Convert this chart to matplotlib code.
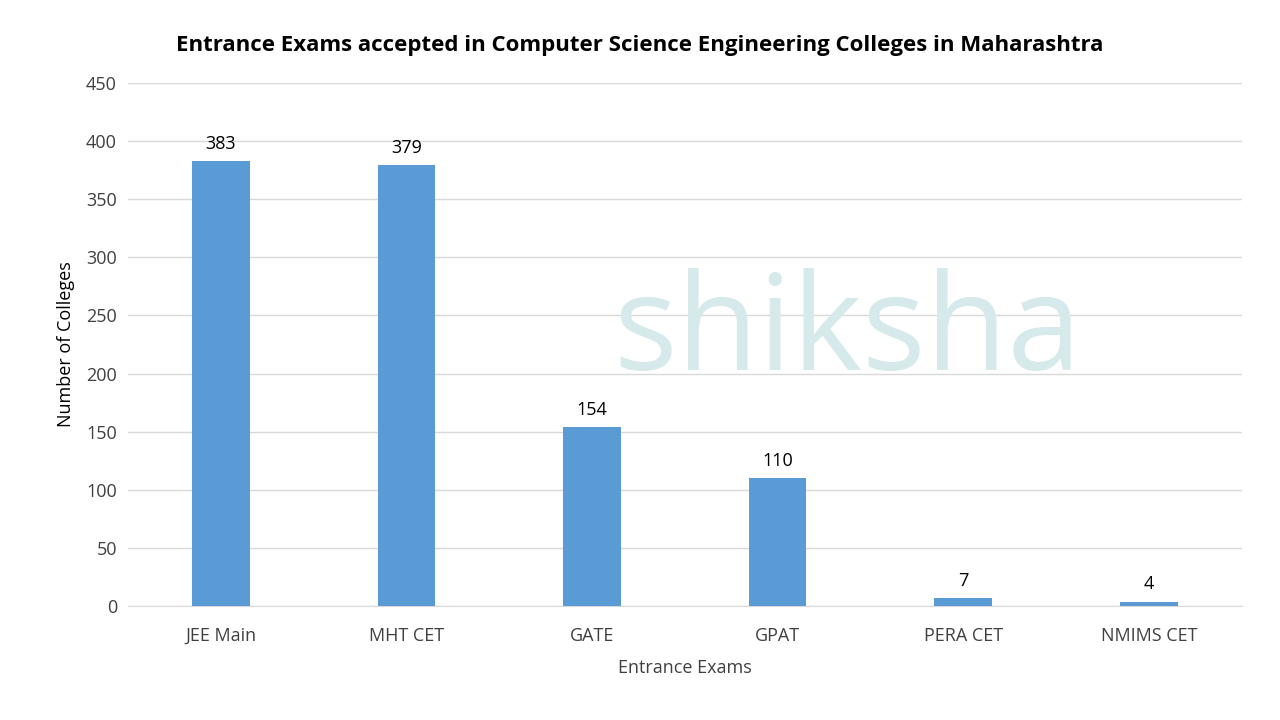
import matplotlib
matplotlib.use("Agg")
from matplotlib import pyplot as plt

exams = ["JEE Main", "MHT CET", "GATE", "GPAT", "PERA CET", "NMIMS CET"]
colleges = [383, 379, 154, 110, 7, 4]
y_ticks = [0, 50, 100, 150, 200, 250, 300, 350, 400, 450]

plt.rcParams["font.family"] = ["Open Sans", "DejaVu Sans"]

fig = plt.figure(figsize=(12.8, 7.2), dpi=100)
ax = fig.add_axes([0.1, 0.158, 0.87, 0.727])

# faint watermark
fig.text(0.662, 0.535, "shiksha", fontsize=96, color="#d6eaeb", ha="center",
         va="center", zorder=0)

x = range(len(exams))
bars = ax.bar(x, colleges, width=0.31, color="#5b9bd5", zorder=3)
for b, v in zip(bars, colleges):
    ax.text(b.get_x() + b.get_width() / 2, v + 7, str(v), ha="center",
            va="bottom", fontsize=13, color="#000000")

ax.set_xlim(-0.5, len(exams) - 0.5)
ax.set_ylim(0, 450)
ax.set_yticks(y_ticks)
ax.set_xticks(list(x))
ax.set_xticklabels(exams)
ax.tick_params(axis="y", length=0, labelsize=13, labelcolor="#404040", pad=8)
ax.tick_params(axis="x", length=0, labelsize=13, labelcolor="#404040", pad=15)
ax.yaxis.grid(True, color="#d9d9d9", linewidth=1, zorder=0)
ax.set_axisbelow(True)
for s in ["top", "right", "left"]:
    ax.spines[s].set_visible(False)
ax.spines["bottom"].set_color("#d9d9d9")
ax.patch.set_alpha(0)

ax.set_xlabel("Entrance Exams", fontsize=13, color="#404040", labelpad=10)
ax.set_ylabel("Number of Colleges", fontsize=13, color="#000000", labelpad=8)
fig.text(0.5, 0.937, "Entrance Exams accepted in Computer Science Engineering Colleges in Maharashtra",
         ha="center", va="center", fontsize=16, fontweight="bold")

fig.savefig("out.png", dpi=100)
